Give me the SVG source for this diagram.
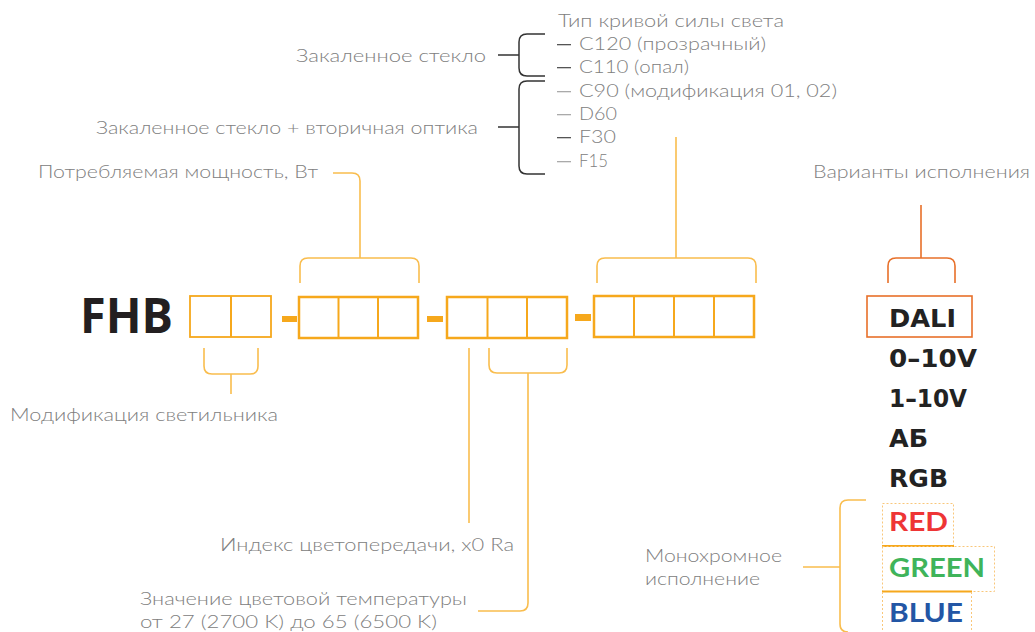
<svg xmlns="http://www.w3.org/2000/svg" width="1035" height="632" viewBox="0 0 1035 632">
<style>
.t{font-family:"Lato","Open Sans","Liberation Sans",sans-serif;font-weight:300;font-size:17px;fill:#808080}
.d{fill:#555}
.b{font-family:"DejaVu Sans",sans-serif;font-weight:700;font-size:25px;fill:#222}
.c{font-family:"Lato","Liberation Sans",sans-serif;font-weight:700;font-size:27px}
.box{fill:none;stroke:#F6A81C;stroke-width:2.5}
.box1{fill:none;stroke:#F6A81C;stroke-width:1.8}
.cell{stroke:#F6A81C;stroke-width:2}
.con{fill:none;stroke:#F9BD4E;stroke-width:1.6}
.blk{fill:none;stroke:#333;stroke-width:1.5}
.red{fill:none;stroke:#E8702A;stroke-width:1.6}
.dot{fill:none;stroke:#F9C77A;stroke-width:1;stroke-dasharray:2 2}
.sol{stroke:#F6A81C;stroke-width:2}
.dash{fill:#F6A81C}
</style>
<rect width="1035" height="632" fill="#fff"/>

<g id="connectors">
  <path class="blk" d="M498,55 H519 M545,34 H527 Q519,34 519,42 V68 Q519,76 527,76 H545"/>
  <path class="blk" d="M498,127 H519 M545,81 H527 Q519,81 519,89 V166 Q519,174 527,174 H545"/>
  <path class="con" d="M676,137 V258 M597,283 V266 Q597,258 605,258 H748 Q756,258 756,266 V283"/>
  <path class="con" d="M333,173 H352 Q360,173 360,181 V258 M300,283 V266 Q300,258 308,258 H411 Q419,258 419,266 V283"/>
  <path class="con" d="M204,348 V366 Q204,374 212,374 H250 Q258,374 258,366 V348 M231,374 V394"/>
  <path class="con" d="M469,348 V523"/>
  <path class="con" d="M489,348 V365 Q489,373 497,373 H559 Q567,373 567,365 V348 M528,373 V603 Q528,611 520,611 H478"/>
  <path class="red" d="M921,205 V258 M888,283 V266 Q888,258 896,258 H947 Q955,258 955,266 V283"/>
  <path class="con" d="M866,500 H848 Q840,500 840,508 V624 Q840,632 848,632 M803,567 H840"/>
</g>

<g id="list">
  <text class="t" x="558" y="27" textLength="226" lengthAdjust="spacingAndGlyphs">Тип кривой силы света</text>
  <g id="l1"><rect class="d" x="557" y="44" width="14" height="1.3"/><text class="t" x="579" y="50" textLength="187" lengthAdjust="spacingAndGlyphs">C120 (прозрачный)</text></g>
  <g id="l2"><rect class="d" x="557" y="67" width="14" height="1.3"/><text class="t" x="579" y="73" textLength="110" lengthAdjust="spacingAndGlyphs">C110 (опал)</text></g>
  <g id="l3"><rect class="d" x="557" y="91" width="14" height="1.3" fill-opacity="0.5"/><text class="t" x="579" y="97" textLength="258" lengthAdjust="spacingAndGlyphs">C90 (модификация 01, 02)</text></g>
  <g id="l4"><rect class="d" x="557" y="114" width="14" height="1.3" fill-opacity="0.5"/><text class="t" x="579" y="120" textLength="38" lengthAdjust="spacingAndGlyphs">D60</text></g>
  <g id="l5"><rect class="d" x="557" y="137" width="14" height="1.3"/><text class="t" x="579" y="143" textLength="37" lengthAdjust="spacingAndGlyphs">F30</text></g>
  <g id="l6"><rect class="d" x="557" y="161" width="14" height="1.3" fill-opacity="0.5"/><text class="t" x="579" y="167" textLength="29" lengthAdjust="spacingAndGlyphs">F15</text></g>
</g>

<g id="label-glass"><text class="t" x="296" y="62" textLength="190" lengthAdjust="spacingAndGlyphs">Закаленное стекло</text></g>
<g id="label-glass-optics"><text class="t" x="96" y="134" textLength="382" lengthAdjust="spacingAndGlyphs">Закаленное стекло + вторичная оптика</text></g>
<g id="label-power"><text class="t" x="38" y="178" textLength="280" lengthAdjust="spacingAndGlyphs">Потребляемая мощность, Вт</text></g>
<g id="label-mod"><text class="t" x="10" y="421" textLength="268" lengthAdjust="spacingAndGlyphs">Модификация светильника</text></g>
<g id="label-cri"><text class="t" x="220" y="551" textLength="294" lengthAdjust="spacingAndGlyphs">Индекс цветопередачи, x0 Ra</text></g>
<g id="label-cct">
  <text class="t" x="140" y="605" textLength="327" lengthAdjust="spacingAndGlyphs">Значение цветовой температуры</text>
  <text class="t" x="140" y="628" textLength="297" lengthAdjust="spacingAndGlyphs">от 27 (2700 K) до 65 (6500 K)</text>
</g>
<g id="label-variants"><text class="t" x="813" y="178" textLength="217" lengthAdjust="spacingAndGlyphs">Варианты исполнения</text></g>
<g id="label-mono">
  <text class="t" x="645" y="562" textLength="137" lengthAdjust="spacingAndGlyphs">Монохромное</text>
  <text class="t" x="645" y="585" textLength="115" lengthAdjust="spacingAndGlyphs">исполнение</text>
</g>

<g id="fhb"><text x="80" y="333" font-family="'Open Sans','Liberation Sans',sans-serif" font-weight="700" font-size="48" fill="#231F20" textLength="93" lengthAdjust="spacingAndGlyphs">FHB</text></g>

<g id="box1">
  <rect class="box1" x="190" y="296" width="81" height="41"/>
  <line class="cell" x1="231" y1="296" x2="231" y2="337" stroke-width="1.6"/>
</g>
<rect class="dash" x="282" y="316" width="15" height="6"/>
<g id="box2">
  <rect class="box" x="299" y="297" width="119" height="41"/>
  <line class="cell" x1="338.5" y1="297" x2="338.5" y2="338"/>
  <line class="cell" x1="378" y1="297" x2="378" y2="338"/>
</g>
<rect class="dash" x="427" y="316" width="16" height="6"/>
<g id="box3">
  <rect class="box" x="447" y="297" width="120" height="41"/>
  <line class="cell" x1="487.5" y1="297" x2="487.5" y2="338"/>
  <line class="cell" x1="527" y1="297" x2="527" y2="338"/>
</g>
<rect class="dash" x="575" y="314" width="16" height="7"/>
<g id="box4">
  <rect class="box" x="594" y="296" width="160" height="41"/>
  <line class="cell" x1="634" y1="296" x2="634" y2="337"/>
  <line class="cell" x1="674" y1="296" x2="674" y2="337"/>
  <line class="cell" x1="714" y1="296" x2="714" y2="337"/>
</g>

<g id="dali">
  <rect class="red" x="867" y="296" width="105" height="41" stroke-width="2"/>
  <text class="b" x="889" y="327" textLength="67" lengthAdjust="spacingAndGlyphs">DALI</text>
</g>
<g id="v010"><text class="b" x="889" y="367" textLength="88" lengthAdjust="spacingAndGlyphs">0–10V</text></g>
<g id="v110"><text class="b" x="889" y="407" textLength="78" lengthAdjust="spacingAndGlyphs">1–10V</text></g>
<g id="ab"><text class="b" x="889" y="447" textLength="39" lengthAdjust="spacingAndGlyphs">АБ</text></g>
<g id="rgb"><text class="b" x="889" y="487" textLength="59" lengthAdjust="spacingAndGlyphs">RGB</text></g>

<g id="red">
  <rect class="dot" x="882.5" y="503.5" width="71" height="43"/>
  <line class="sol" x1="882" y1="546" x2="954" y2="546"/>
  <text class="c" x="889" y="531" fill="#EE3535" textLength="59" lengthAdjust="spacingAndGlyphs">RED</text>
</g>
<g id="green">
  <rect class="dot" x="882.5" y="546.5" width="112" height="45"/>
  <line class="sol" x1="882" y1="591.5" x2="972" y2="591.5"/>
  <text class="c" x="889" y="577" fill="#3FB45A" textLength="96" lengthAdjust="spacingAndGlyphs">GREEN</text>
</g>
<g id="blue">
  <path class="dot" d="M882.5,592 V632 M971.5,592 V632"/>
  <text class="c" x="889" y="622" fill="#2356A5" textLength="74" lengthAdjust="spacingAndGlyphs">BLUE</text>
</g>
</svg>
